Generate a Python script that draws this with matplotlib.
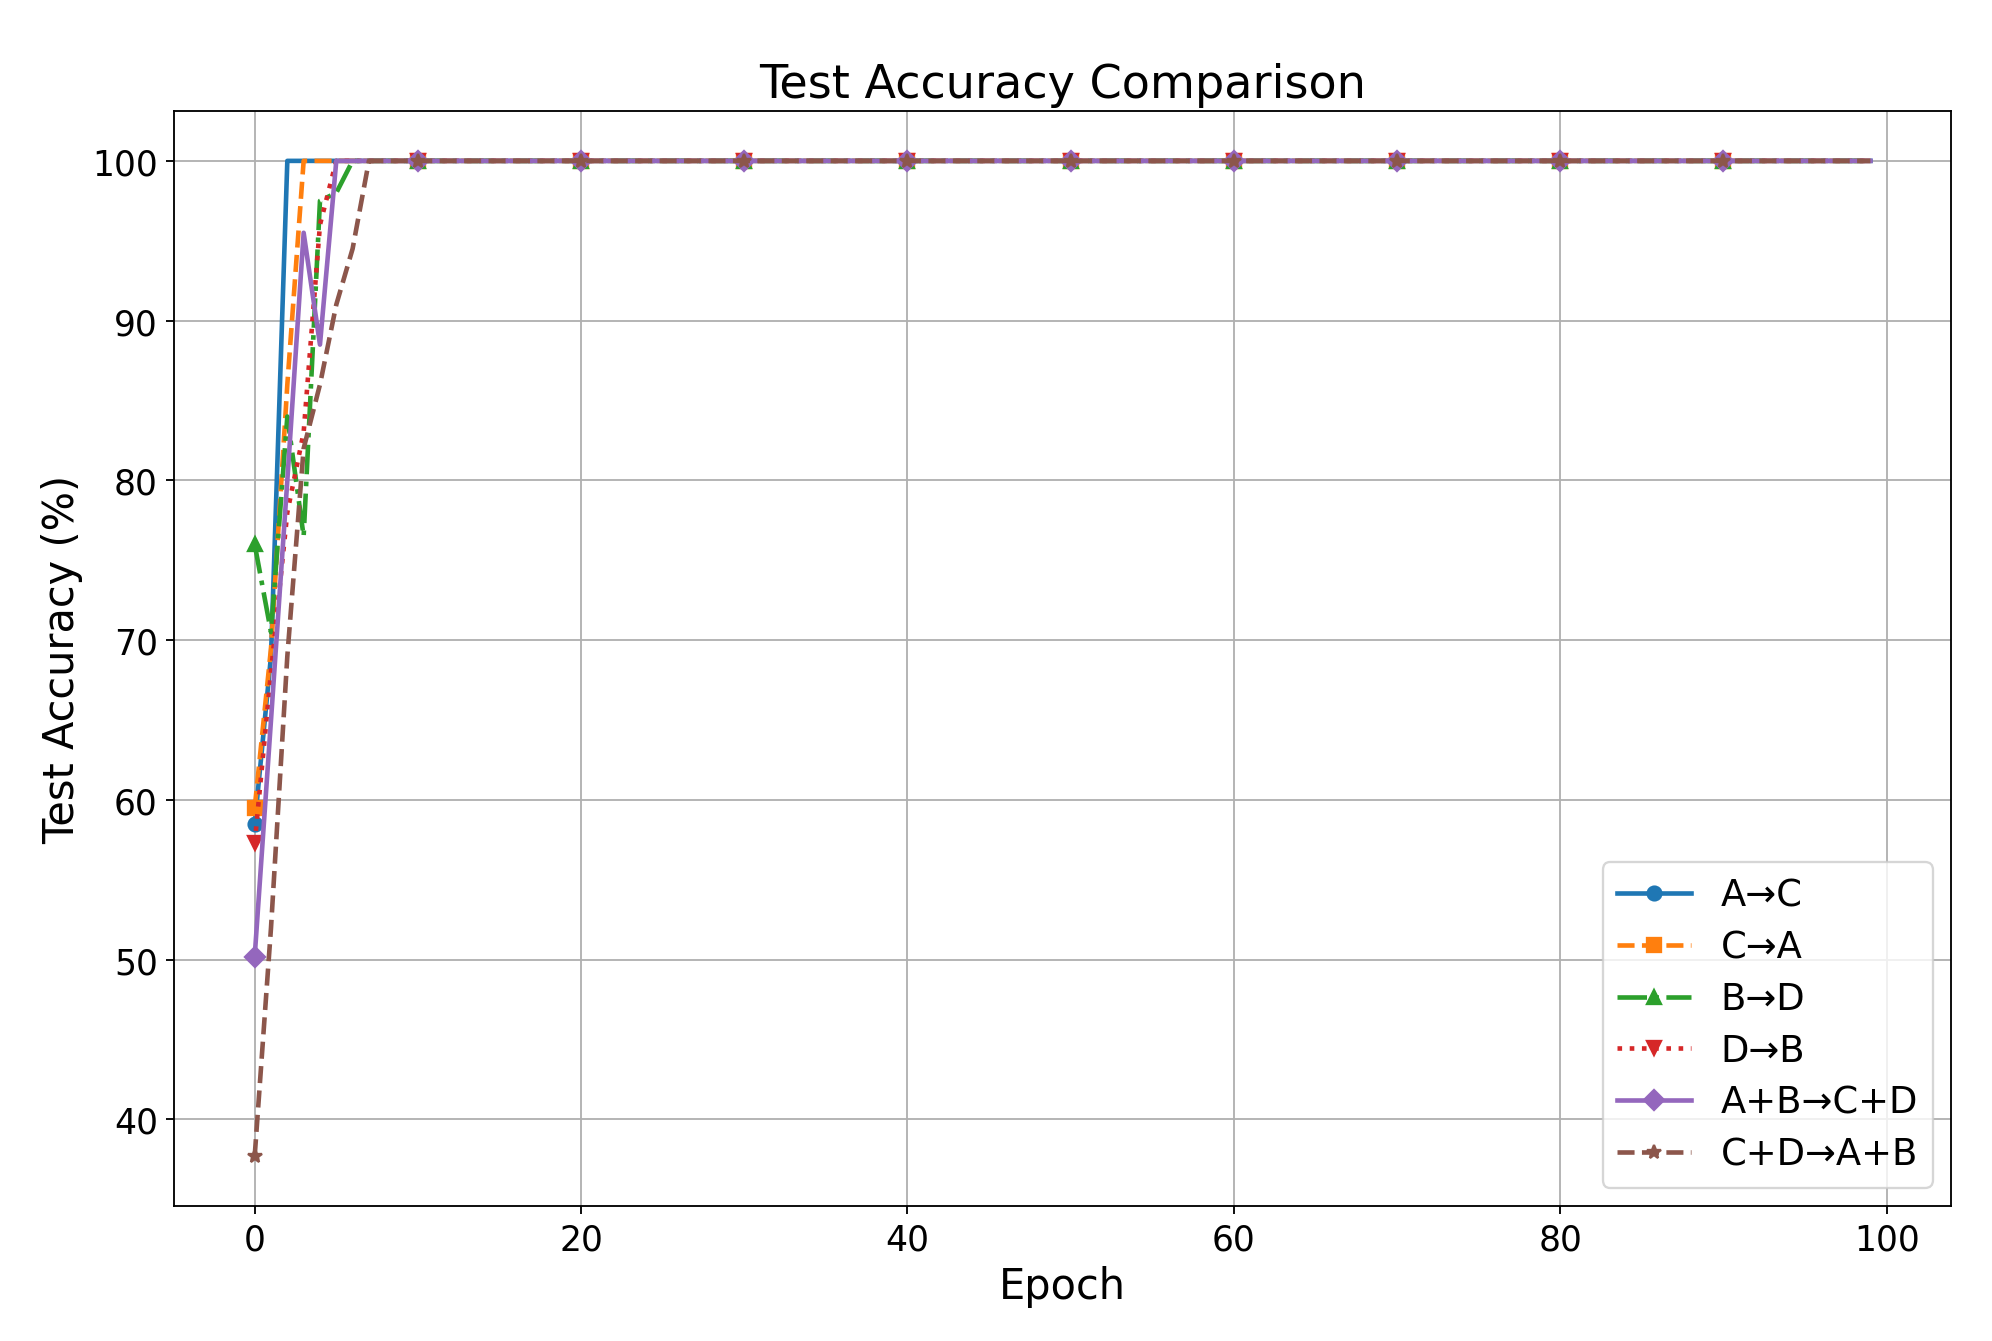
import matplotlib.pyplot as plt

n_epochs = 100
epochs = list(range(n_epochs))

# early epochs; every series sits at 100% afterwards
a_to_c_start = [58.5, 69.0, 100.0]
c_to_a_start = [59.5, 69.5, 86.0, 100.0]
b_to_d_start = [76.0, 70.5, 84.0, 76.5, 97.5, 98.0, 100.0]
d_to_b_start = [57.3, 68.0, 78.0, 83.0, 96.0, 100.0]
ab_to_cd_start = [50.2, 65.0, 80.0, 95.5, 88.5, 100.0]
cd_to_ab_start = [37.7, 52.0, 69.0, 82.0, 86.0, 91.0, 94.5, 100.0]

def pad(vals):
    return vals + [100.0] * (n_epochs - len(vals))

series = [
    ("A→C", pad(a_to_c_start), '-', 'o'),
    ("C→A", pad(c_to_a_start), '--', 's'),
    ("B→D", pad(b_to_d_start), '-.', '^'),
    ("D→B", pad(d_to_b_start), ':', 'v'),
    ("A+B→C+D", pad(ab_to_cd_start), '-', 'D'),
    ("C+D→A+B", pad(cd_to_ab_start), '--', '*'),
]

fig = plt.figure(figsize=(12, 8.084), dpi=166)
ax = fig.add_axes([0.0873, 0.1006, 0.8922, 0.8159])

for label, vals, ls, mk in series:
    ax.plot(epochs, vals, linestyle=ls, marker=mk, markevery=10, linewidth=2, label=label)

ax.set_title("Test Accuracy Comparison", fontsize=20)
ax.set_xlabel("Epoch", fontsize=18)
ax.set_ylabel("Test Accuracy (%)", fontsize=18)
ax.tick_params(labelsize=15)
ax.grid(True)
ax.legend(loc='lower right', fontsize=16, labelspacing=0.4)

fig.savefig("out.png", dpi=166)
